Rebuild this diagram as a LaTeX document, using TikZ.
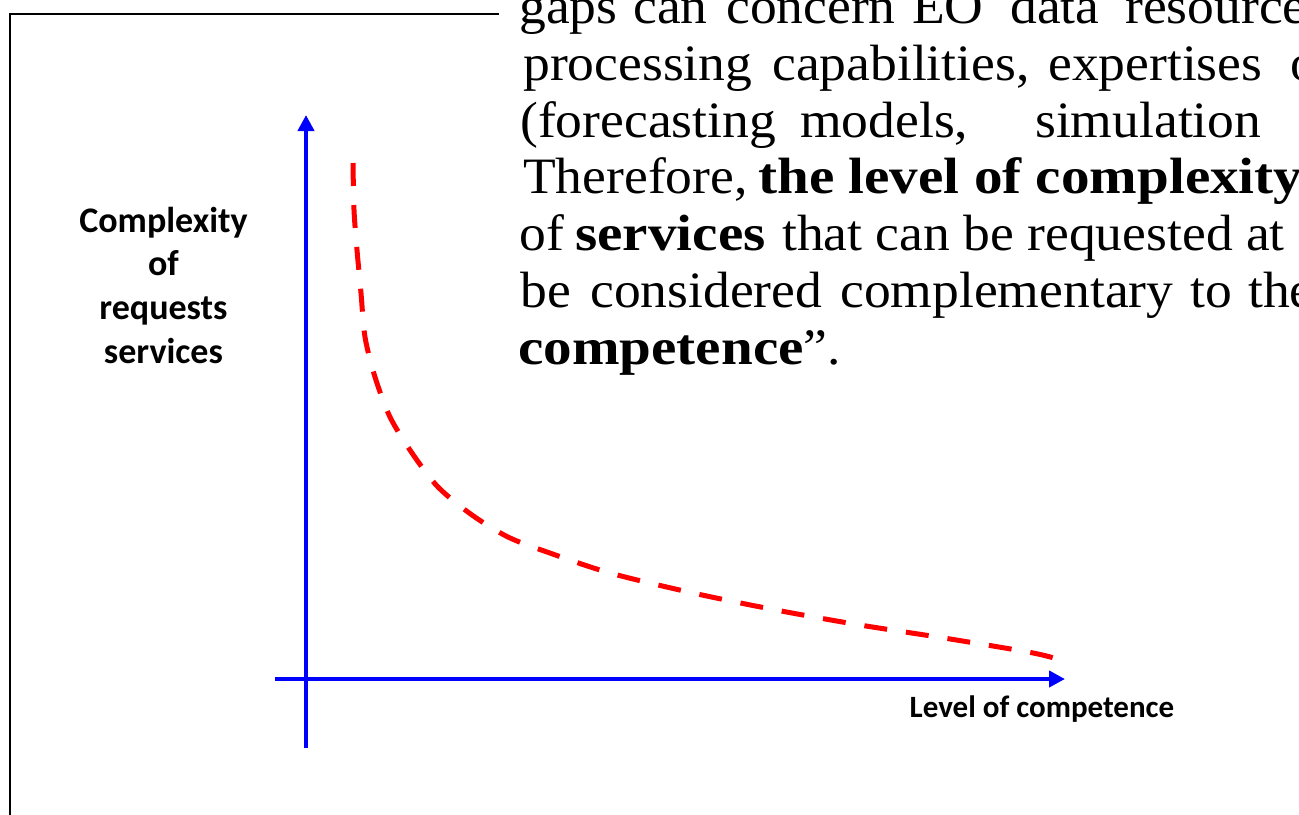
\documentclass[tikz,border=0pt]{standalone}
\usepackage{fontspec}
\setmainfont{Liberation Serif}[FakeStretch=1.05, BoldFeatures={FakeStretch=1.12}]
\newfontfamily\labelfont{Carlito}
\usetikzlibrary{arrows.meta}
\tikzset{
  body/.style={anchor=base west, inner sep=0pt, font=\fontsize{38.25}{40}\selectfont},
  ylab/.style={anchor=base, inner sep=0pt, font=\labelfont\bfseries\fontsize{27}{30}\selectfont},
  xlab/.style={anchor=base, inner sep=0pt, font=\labelfont\bfseries\fontsize{23.25}{26}\selectfont},
  axisline/.style={draw=blue, line width=3pt, -{Triangle[length=12pt,width=12pt]}},
  curveline/.style={draw=red, line width=3.75pt, dash pattern=on 17.25pt off 14.25pt},
  framebox/.style={draw=black, line width=1.5pt}
}
\begin{document}
\begin{tikzpicture}[x=0.75pt,y=-0.75pt]
\useasboundingbox (0,0) rectangle (1299,814);
\clip (0,0) rectangle (1299,814);
% frame
\draw[framebox] (10,14) rectangle (1400,900);
% white text box covering the frame
\fill[white] (499,-10) rectangle (1310,390);
% body text
\node[body] (l1a) at (519,23) {gaps};
\node[body] (l1b) at (633,23) {can};
\node[body] (l1c) at (726,23) {concern};
\node[body] (l1d) at (912,23) {EO};
\node[body] (l1e) at (1010,23) {data};
\node[body] (l1f) at (1125,23) {resource};
\node[body] (l2a) at (523,80) {processing};
\node[body] (l2b) at (772,80) {capabilities,};
\node[body] (l2c) at (1048,80) {expertises};
\node[body] (l2d) at (1290,80) {o};
\node[body] (l3a) at (520,137) {(forecasting};
\node[body] (l3b) at (800,137) {models,};
\node[body] (l3c) at (1035,137) {simulation};
\node[body] (l4a) at (523,193) {Therefore,};
\node[body] (l4b) at (758,193) {\bfseries the level of complexity};
\node[body] (l5a) at (519,250) {of};
\node[body] (l5b) at (575,250) {\bfseries services};
\node[body] (l5c) at (782,250) {that can be requested at};
\node[body] (l6a) at (520,307) {be};
\node[body] (l6b) at (590,307) {considered};
\node[body] (l6c) at (840,307) {complementary};
\node[body] (l6d) at (1190,307) {to};
\node[body] (l6e) at (1248,307) {the};
\node[body] (l7a) at (518,364) {\textbf{competence}”.};
% y label
\node[ylab] (y1) at (163.5,232) {Complexity};
\node[ylab] (y2) at (163.5,275) {of};
\node[ylab] (y3) at (163.5,319) {requests};
\node[ylab] (y4) at (163.5,363) {services};
% axes
\coordinate (xs) at (275,679);
\coordinate (xe) at (1065,679);
\coordinate (ys) at (306,748);
\coordinate (ye) at (306,115);
\draw[axisline] (xs) -- (xe);
\draw[axisline] (ys) -- (ye);
\node[xlab] (xl) at (1042,717) {Level of competence};
% curve
\draw[curveline] plot[smooth, tension=0.5] coordinates {(353,163) (354,210) (357,250) (361,293) (365,337) (375,377) (390,417) (412,453) (438,487) (472,515) (508,537) (547,552) (610,573) (693,593) (776,610) (860,625) (944,638) (1028,652) (1054,658)};
\end{tikzpicture}
\end{document}
